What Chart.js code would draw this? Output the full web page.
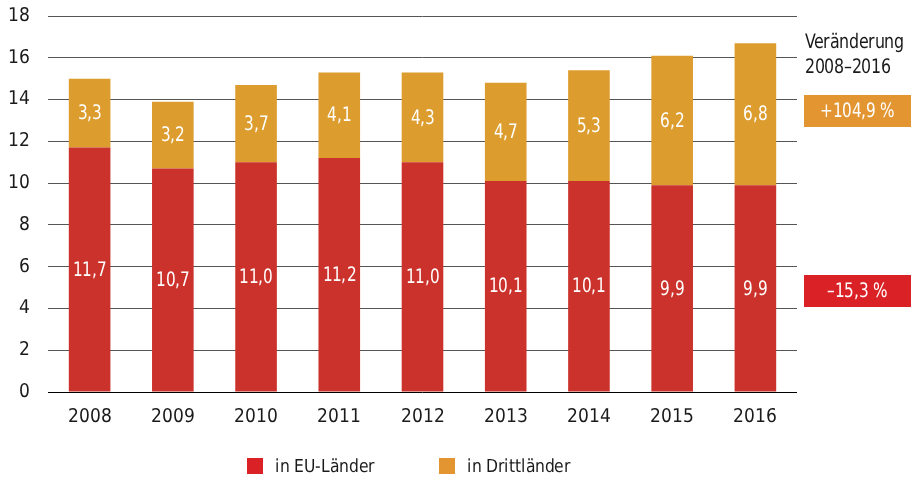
<!DOCTYPE html>
<html>
<head>
<meta charset="utf-8">
<script src="https://cdn.jsdelivr.net/npm/chart.js@4"></script>
<style>
  @font-face {
    font-family: 'CondFont';
    src: local('Liberation Sans Narrow'), local('LiberationSansNarrow'),
         local('DejaVu Sans Condensed'), local('DejaVuSansCondensed');
  }
  body { margin: 0; background: #fff; }
  #wrap { width: 913px; height: 480px; }
</style>
</head>
<body>
<div id="wrap"><canvas id="myChart" width="913" height="480"></canvas></div>
<script>
var years = ['2008', '2009', '2010', '2011', '2012', '2013', '2014', '2015', '2016'];
var euValues = [11.7, 10.7, 11.0, 11.2, 11.0, 10.1, 10.1, 9.9, 9.9];
var drittValues = [3.3, 3.2, 3.7, 4.1, 4.3, 4.7, 5.3, 6.2, 6.8];
var yTicks = [0, 2, 4, 6, 8, 10, 12, 14, 16, 18];
var changeTitle = ['Veränderung', '2008–2016'];
var changeLabels = ['+104,9 %', '–15,3 %'];

var font = 'CondFont, "DejaVu Sans Condensed", sans-serif';
var red = '#cb322b';
var orange = '#dc9c2e';
var legendColors = ['#d92126', '#e29531'];

function fmt(v) {
    return v.toFixed(1).replace('.', ',');
}

// squeeze text a bit so it looks like the condensed original
function condText(ctx, text, x, y, factor) {
    ctx.fillText(text, x, y, ctx.measureText(text).width * factor);
}

// white numbers in the middle of every segment
var segmentLabels = {
    id: 'segmentLabels',
    afterDatasetsDraw: function(chart) {
        var ctx = chart.ctx;
        ctx.save();
        ctx.fillStyle = '#fff';
        ctx.font = '20px ' + font;
        ctx.textAlign = 'center';
        ctx.textBaseline = 'middle';
        chart.data.datasets.forEach(function(ds, i) {
            chart.getDatasetMeta(i).data.forEach(function(bar, j) {
                var p = bar.getProps(['x', 'y', 'base'], true);
                condText(ctx, fmt(ds.data[j]), p.x, (p.y + p.base) / 2 + 1, 0.85);
            });
        });
        ctx.restore();
    }
};

// the "Veränderung" boxes on the right and the legend at the bottom
var extras = {
    id: 'extras',
    afterDraw: function(chart) {
        var ctx = chart.ctx;
        var x = chart.chartArea.right + 7;
        var w = 107;
        ctx.save();
        ctx.font = '20px ' + font;
        ctx.fillStyle = '#1a1a1a';
        ctx.textAlign = 'left';
        ctx.textBaseline = 'middle';
        condText(ctx, changeTitle[0], x + 1, 43, 0.88);
        condText(ctx, changeTitle[1], x + 1, 68, 0.88);

        ctx.fillStyle = legendColors[1];
        ctx.fillRect(x, 95, w, 32);
        ctx.fillStyle = legendColors[0];
        ctx.fillRect(x, 275, w, 32);

        ctx.fillStyle = '#fff';
        ctx.textAlign = 'center';
        ctx.font = '20px ' + font;
        condText(ctx, changeLabels[0], x + w / 2, 112, 0.85);
        condText(ctx, changeLabels[1], x + w / 2, 292, 0.85);

        // legend
        var lx = [247, 439];
        ctx.font = '18px ' + font;
        ctx.textAlign = 'left';
        chart.data.datasets.forEach(function(ds, i) {
            ctx.fillStyle = legendColors[i];
            ctx.fillRect(lx[i], 458, 16, 16);
            ctx.fillStyle = '#1a1a1a';
            condText(ctx, ds.label, lx[i] + 28, 467, 0.96);
        });
        ctx.restore();
    }
};

function drawChart() {
    var ctx = document.getElementById('myChart').getContext('2d');
    var myChart = new Chart(ctx, {
        type: 'bar',
        data: {
            labels: years,
            datasets: [{
                label: 'in EU-Länder',
                data: euValues,
                backgroundColor: red,
                categoryPercentage: 1,
                barPercentage: 0.5
            }, {
                label: 'in Drittländer',
                data: drittValues,
                backgroundColor: orange,
                categoryPercentage: 1,
                barPercentage: 0.5
            }]
        },
        options: {
            responsive: false,
            animation: false,
            layout: { padding: { top: 16, right: 116, left: 0, bottom: 48 } },
            scales: {
                x: {
                    stacked: true,
                    afterFit: function(scale) { scale.height = 40; },
                    grid: { display: false, drawTicks: false },
                    border: { display: false },
                    ticks: { color: '#1a1a1a', font: { family: font, size: 19 }, padding: 14 }
                },
                y: {
                    stacked: true,
                    min: 0,
                    max: 18,
                    afterFit: function(scale) {
                        scale.width = 48;
                        scale.paddingTop = 0;
                        scale.paddingBottom = 0;
                    },
                    afterBuildTicks: function(scale) {
                        scale.ticks = yTicks.map(function(v) { return { value: v }; });
                    },
                    grid: {
                        drawTicks: false,
                        color: function(c) { return c.tick && c.tick.value === 0 ? '#000' : '#555'; },
                        lineWidth: 1
                    },
                    border: { display: false },
                    ticks: { color: '#1a1a1a', font: { family: font, size: 19 }, padding: 18 }
                }
            },
            plugins: {
                tooltip: { enabled: false },
                legend: { display: false }
            }
        },
        plugins: [segmentLabels, extras]
    });
}

document.fonts.load('19px CondFont').then(drawChart, drawChart);
</script>
</body>
</html>
